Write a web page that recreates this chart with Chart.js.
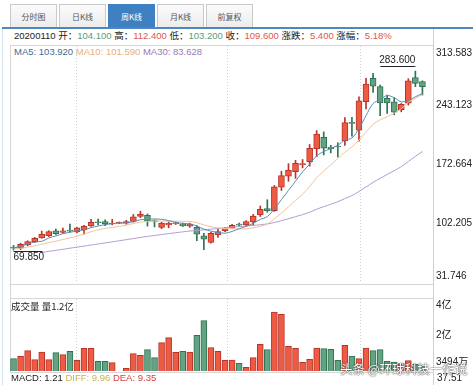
<!DOCTYPE html>
<html>
<head>
<meta charset="utf-8">
<script src="https://cdn.jsdelivr.net/npm/chart.js@4.4.0/dist/chart.umd.min.js"></script>
<style>
  body { margin: 0; background: #fff; width: 473px; height: 385px; overflow: hidden; position: relative;
         font-family: "Liberation Sans", Arial, "Noto Sans CJK SC", sans-serif; font-size: 9.5px; color: #222; }
  .tab { position: absolute; top: 4px; height: 23px; width: 47px; line-height: 23px; text-align: center;
         border: 1px solid #c9c9c9; border-bottom: none; box-sizing: border-box;
         background: linear-gradient(#fbfbfb, #ececec); color: #555; font-family: "Noto Sans CJK SC", sans-serif; font-size: 8px; }
  .tab.on { background: #3f80c2; border-color: #3f80c2; color: #fff; }
  .row { position: absolute; left: 14px; white-space: nowrap; line-height: 14px; }
  .g { color: #5b9c77; } .r { color: #e0564b; }
  .ma5 { color: #416d92; } .ma10 { color: #e8b07f; } .ma30 { color: #9879b6; }
  .line { position: absolute; background: #d6d6d6; }
  canvas { position: absolute; left: 0; }
  #wm { position: absolute; left: 340px; top: 359px; font-family: "Noto Sans CJK SC", sans-serif; font-size: 12.5px;
        color: #fff; text-shadow: 0 0 1px #333, 0 0 2px #555; white-space: nowrap; }
</style>
</head>
<body>
<div class="tab" style="left:10px">分时图</div>
<div class="tab" style="left:59px">日K线</div>
<div class="tab on" style="left:108px">周K线</div>
<div class="tab" style="left:157px">月K线</div>
<div class="tab" style="left:206px">前复权</div>
<div class="line" style="left:2px;top:27px;width:471px;height:2px;background:#4f86bd"></div>
<div class="line" style="left:2px;top:29px;width:1px;height:356px;background:#d3e2ef"></div>

<div class="row" style="top:29px"><span>20200110</span> 开：<span class="g">104.100</span> 高：<span class="r">112.400</span> 低：<span class="g">103.200</span> 收：<span class="r">109.600</span> 涨跌：<span class="r">5.400</span> 涨幅：<span class="r">5.18%</span></div>
<div class="line" style="left:10px;top:45px;width:423px;height:1px"></div>
<div class="row" style="top:45px"><span class="ma5">MA5: 103.920</span> <span class="ma10">MA10: 101.590</span> <span class="ma30">MA30: 83.628</span></div>

<div class="line" style="left:433px;top:29px;width:1px;height:356px;background:#cfcfcf"></div>
<div class="line" style="left:10px;top:45px;width:1px;height:327px"></div>
<div class="line" style="left:10px;top:284px;width:423px;height:1px"></div>
<div class="line" style="left:10px;top:298px;width:423px;height:1px"></div>
<div class="line" style="left:10px;top:372px;width:423px;height:1px"></div>

<canvas id="price" width="473" height="240" style="top:45px"></canvas>
<canvas id="vol" width="473" height="75" style="top:298px"></canvas>

<div class="row" style="top:299px;left:11px;font-family:'Noto Sans CJK SC',sans-serif">成交量 量1.2亿</div>
<div class="row" style="top:371px;left:11px">MACD: 1.21 <span style="color:#c9b24a">DIFF: 9.96</span> <span style="color:#d9403a">DEA: 9.35</span></div>
<div class="row" style="top:371px;left:437px;font-size:10px">37.51</div>
<div id="wm">头条 @环球科技一作说</div>

<script>
// weekly candles, 20200110 is index 17
const opens  = [73, 72, 76, 80, 84.5, 87, 93, 91, 93, 91.5, 94, 98.7, 103.5, 104, 101, 101.9, 102, 104.1, 110, 111.5,
                104.5, 97, 100, 101, 101, 98.5, 97, 87, 79, 88, 93, 96, 101, 100, 103.5, 112, 119.5, 117, 145, 158,
                163.5, 172, 175.5, 191, 204.5, 193, 194, 200.5, 222.5, 213, 247, 275, 265, 251, 247, 237.5, 245.3, 276, 271];
const highs  = [75.5, 78, 81, 85, 92.5, 93, 95, 96, 101, 97, 99.5, 106.5, 107, 106, 106.5, 103.5, 105.5, 112.4, 116.3, 113,
                106, 103, 103.5, 103.5, 102, 102, 99, 90, 91, 94.5, 97, 100.5, 102, 105, 112.5, 122.5, 130, 147, 164, 173,
                177, 178, 196, 212.5, 211, 195, 198, 228, 228.5, 253, 275, 281, 267, 255, 252, 245, 274.5, 283.6, 272];
const lows   = [69.85, 70.5, 75, 79, 84, 86, 88.5, 90, 91.5, 90.5, 89, 98, 100, 99, 100, 101.5, 100.7, 103.2, 108.5, 98.5,
                97.5, 95.5, 96.5, 100.5, 98, 97, 81, 70.5, 78, 85, 92, 95.5, 98.5, 99, 100, 110, 115, 116, 141, 152,
                155.5, 168, 170, 181.5, 183.5, 186, 181, 195, 206, 200, 238.5, 258, 230.5, 233, 231.5, 235, 243, 265, 255];
const closes = [72, 76.7, 80, 84, 88.7, 92, 89.5, 93, 92.5, 96.5, 98.5, 103, 102.5, 101, 101.5, 102.7, 103.8, 109.6, 113, 104.5,
                104, 102, 101.8, 102.5, 98.8, 101, 89, 83, 90, 92, 96, 99.5, 99.7, 104, 110.5, 118.5, 117, 145.5, 158.8, 165.5,
                173.5, 173, 191.5, 208.5, 191.5, 191, 193, 222, 221, 248, 268, 265.5, 245.5, 245.5, 234.5, 244, 272, 269, 265];
// volume in 万股
const volumes = [9747, 10930, 13803, 9240, 13127, 9240, 12789, 11775, 13465, 8902, 14986, 14986, 8395, 8395, 7719, 3494, 4846, 12282, 11437, 14310,
                 10254, 17859, 20394, 12958, 13465, 13127, 21577, 29013, 15324, 13465, 8902, 9071, 7381, 5353, 10254, 17014, 14310, 33407, 32224, 16000,
                 14986, 7888, 9409, 15155, 14817, 14479, 8902, 16507, 11099, 9747, 15155, 13803, 14310, 8395, 8057, 7212, 8733, 6874, 6367];
// moving averages
const ma5  = [72.5, 74.5, 77, 79.5, 80.3, 84.3, 86.8, 89.4, 91.1, 92.7, 94, 96.7, 98.6, 100.3, 101.3, 102.1, 102.3, 103.9, 106.1, 106.7,
              107, 106.6, 105.1, 103, 101.8, 101.2, 98.6, 94.9, 92.4, 91, 90, 92.1, 95.4, 98.2, 101.9, 106.4, 109.9, 119.1, 130.1, 141.1,
              152.1, 163.3, 172.5, 182.4, 187.6, 191.1, 195.1, 201.2, 203.7, 215, 230.4, 244.9, 249.6, 254.5, 251.8, 247, 248.3, 253, 256.9];
const ma10 = [71, 72, 73.5, 75, 76.8, 78.8, 80.5, 82.5, 84.5, 86.5, 89.1, 91.8, 94, 95.7, 97, 98.1, 99.5, 101.6, 103.2, 104,
              104.6, 104.5, 104.4, 104.5, 104.3, 104.1, 102.6, 100, 97.7, 96.4, 95.6, 95.4, 95.2, 95.3, 96.5, 98.2, 101, 107.3, 114.2, 121.5,
              129.3, 136.6, 145.8, 156.2, 164.3, 171.6, 179.2, 186.8, 193.1, 201.3, 210.8, 220, 225.4, 229.1, 233.4, 238.7, 246.6, 251.3, 255.7];
const ma30 = [null, null, null, null, 67, 68.3, 69.6, 70.8, 72.1, 73.4, 74.6, 75.9, 77.2, 78.4, 79.7, 81, 82.3, 83.6, 85, 86.2,
              87.3, 88.4, 89.5, 90.6, 91.6, 92.6, 93.3, 94, 94.8, 95.6, 96.5, 97.2, 97.9, 98.5, 99.3, 100.1, 101.1, 102.8, 105, 107.3,
              109.8, 112.2, 115.1, 118.7, 121.7, 124.6, 127.6, 131.4, 135, 139.8, 145.2, 150.7, 155.5, 160.2, 164.7, 169.5, 175.6, 181.8, 187.6];

const priceTicks = [31.746, 102.205, 172.664, 243.123, 313.583];
const volTicks = [3494, 20000, 40000];
const volTickLabels = ['3494万', '2亿', '4亿'];

// one spare slot on the right, like the original
const weeks = closes.map((_, i) => 'w' + i).concat(['']);

const RED = '#ef5a43', RED_D = '#b8342a', GRN = '#63a383', GRN_D = '#2f7350';
const up = closes.map((c, i) => c >= opens[i]);
const fill = up.map(u => u ? RED : GRN);
const edge = up.map(u => u ? RED_D : GRN_D);

const FONT = '10px "Liberation Sans", Arial, "Noto Sans CJK SC", sans-serif';
const vGrid = [8.86, 30.28, 49.15];

function dottedGrid(chart) {
  const { ctx, chartArea: a, scales } = chart;
  ctx.save();
  ctx.strokeStyle = '#cfcfcf';
  ctx.setLineDash([1, 2]);
  ctx.lineWidth = 1;
  vGrid.forEach(i => {
    const x = Math.round(scales.x.getPixelForValue(i)) + 0.5;
    ctx.beginPath(); ctx.moveTo(x, a.top); ctx.lineTo(x, a.bottom); ctx.stroke();
  });
  ctx.restore();
}

const priceDeco = {
  id: 'priceDeco',
  beforeDatasetsDraw: dottedGrid,
  afterDraw(chart) {
    const { ctx, chartArea: a, scales: { x, y } } = chart;
    ctx.save();
    ctx.font = FONT;
    ctx.fillStyle = '#222';
    ctx.textBaseline = 'middle';
    ctx.textAlign = 'left';
    priceTicks.forEach(v => {
      let py = y.getPixelForValue(v);
      py = Math.min(Math.max(py, a.top + 7), a.bottom - 6);
      ctx.fillText(v.toFixed(3), a.right + 3, py);
    });
    // highest high / lowest low markers
    const hi = Math.max(...highs), hiI = highs.indexOf(hi);
    const lo = Math.min(...lows), loI = lows.indexOf(lo);
    ctx.strokeStyle = '#222';
    ctx.lineWidth = 1;
    let px = x.getPixelForValue(hiI), py = Math.round(y.getPixelForValue(hi)) - 4.5;
    ctx.beginPath(); ctx.moveTo(px, py); ctx.lineTo(px - 35, py); ctx.stroke();
    ctx.textAlign = 'right'; ctx.textBaseline = 'bottom';
    ctx.fillText(hi.toFixed(3), px, py - 1);
    px = x.getPixelForValue(loI); py = Math.round(y.getPixelForValue(lo)) + 1.5;
    ctx.beginPath(); ctx.moveTo(px, py); ctx.lineTo(px + 29, py); ctx.stroke();
    ctx.textAlign = 'left'; ctx.textBaseline = 'top';
    ctx.fillText(lo.toFixed(3), px, py + 1);
    ctx.restore();
  }
};

const volDeco = {
  id: 'volDeco',
  beforeDatasetsDraw: dottedGrid,
  afterDraw(chart) {
    const { ctx, chartArea: a, scales: { y } } = chart;
    ctx.save();
    ctx.font = FONT;
    ctx.fillStyle = '#222';
    ctx.textBaseline = 'middle';
    volTicks.forEach((v, i) => {
      let py = y.getPixelForValue(v);
      py = Math.min(Math.max(py, a.top + 6), a.bottom - 9);
      if (v === 20000) py -= 3;
      ctx.fillText(volTickLabels[i], a.right + 3, py);
    });
    ctx.restore();
  }
};

const lineDs = (data, color) => ({
  type: 'line', data, borderColor: color, borderWidth: 1, pointRadius: 0, tension: 0.3, order: 0, spanGaps: false
});

new Chart(document.getElementById('price'), {
  type: 'bar',
  data: {
    labels: weeks,
    datasets: [
      lineDs(ma5, '#5a8ab6'),
      lineDs(ma10, '#f0c39a'),
      lineDs(ma30, '#b29bd3'),
      {
        data: lows.map((l, i) => [l, highs[i]]),
        backgroundColor: edge, barThickness: 1, grouped: false, order: 3
      },
      {
        data: opens.map((o, i) => [o, closes[i]]),
        backgroundColor: fill, borderColor: edge, borderWidth: 1, borderSkipped: false,
        barThickness: 6, minBarLength: 1, grouped: false, order: 2
      }
    ]
  },
  options: {
    responsive: false, animation: false, devicePixelRatio: 1,
    layout: { padding: { left: 10, right: 0, top: 1, bottom: 3 } },
    plugins: { legend: { display: false }, tooltip: { enabled: false } },
    scales: {
      x: { display: false, offset: true },
      y: {
        position: 'right', min: priceTicks[0], max: priceTicks[priceTicks.length - 1],
        grid: { display: false }, border: { display: false }, ticks: { display: false },
        afterFit(s) { s.width = 40; }
      }
    }
  },
  plugins: [priceDeco]
});

new Chart(document.getElementById('vol'), {
  type: 'bar',
  data: {
    labels: weeks,
    datasets: [{
      data: volumes, backgroundColor: fill, borderColor: edge, borderWidth: 1, borderSkipped: 'bottom',
      barThickness: 6, minBarLength: 1
    }]
  },
  options: {
    responsive: false, animation: false, devicePixelRatio: 1,
    layout: { padding: { left: 10, right: 0, top: 1, bottom: 2 } },
    plugins: { legend: { display: false }, tooltip: { enabled: false } },
    scales: {
      x: { display: false, offset: true },
      y: {
        position: 'right', min: volTicks[0], max: volTicks[volTicks.length - 1],
        grid: { display: false }, border: { display: false }, ticks: { display: false },
        afterFit(s) { s.width = 40; }
      }
    }
  },
  plugins: [volDeco]
});
</script>
</body>
</html>
